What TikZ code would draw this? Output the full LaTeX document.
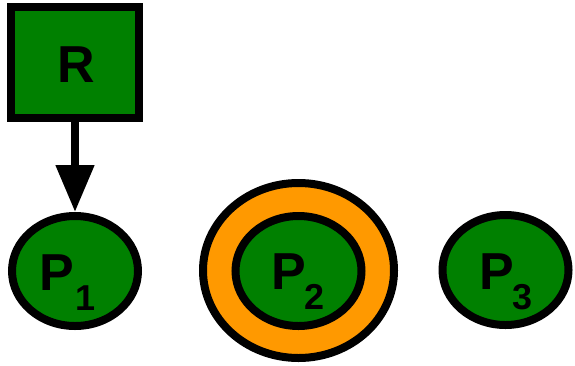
\documentclass[tikz,border=0pt]{standalone}
\usepackage{fontspec}
\setmainfont{Liberation Sans}
\usetikzlibrary{shapes.geometric,arrows.meta}
\definecolor{fillgreen}{RGB}{0,128,0}
\definecolor{ringorange}{RGB}{255,153,0}
\tikzset{
  placebox/.style={draw=black, line width=8pt, fill=fillgreen, rectangle, minimum width=128pt, minimum height=111pt, inner sep=0pt},
  place/.style={draw=black, line width=8pt, fill=fillgreen, ellipse, minimum width=126pt, minimum height=110pt, inner sep=0pt},
  ring/.style={draw=black, line width=8pt, fill=ringorange, ellipse, minimum width=191pt, minimum height=175pt, inner sep=0pt},
  bigtext/.style={anchor=base, inner sep=0pt, font=\fontsize{52}{52}\selectfont\bfseries},
  subtext/.style={anchor=base, inner sep=0pt, font=\fontsize{36}{36}\selectfont\bfseries},
  flow/.style={line width=8pt, -{Triangle[length=47pt, width=37pt]}}
}
\begin{document}
\begin{tikzpicture}[x=1pt, y=-1pt]
\useasboundingbox (0,0) rectangle (575,365);
\node[placebox] (r) at (75,62.5) {};
\node[bigtext] (rt) at (76,82.7) {R};
\node[place] (p1) at (75,271) {};
\node[ring] (p2o) at (298.5,270.5) {};
\node[place] (p2) at (298.5,271) {};
\node[place] (p3) at (505.5,270) {};
\node[bigtext] (p1t) at (57,290) {P};
\node[subtext, anchor=base west] (p1s) at (75.2,310) {1};
\node[bigtext] (p2t) at (289,289.5) {P};
\node[subtext] (p2s) at (315,309.5) {2};
\node[bigtext] (p3t) at (497,289.5) {P};
\node[subtext] (p3s) at (523,309.5) {3};
\draw[flow] (r.south) -- (p1.north);
\end{tikzpicture}
\end{document}
